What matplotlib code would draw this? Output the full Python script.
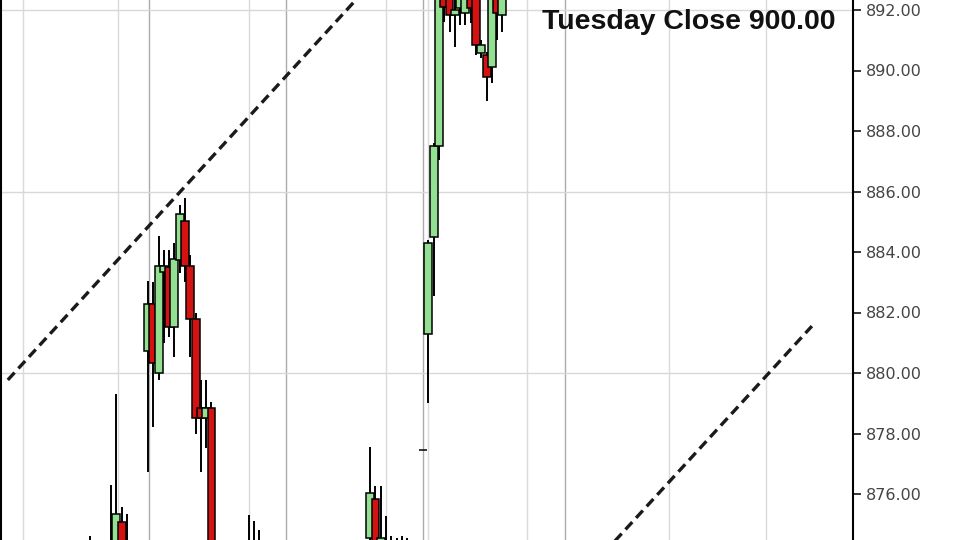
import matplotlib
matplotlib.use("Agg")
import matplotlib.pyplot as plt
import numpy as np

# 15 minute bars, x = bar number counted from the session open (dark grid line)
bar_idx = [-11, -7, -6, -5, -4,
           0, 1, 2, 3, 4, 5, 6, 7, 8, 9, 10, 11, 12,
           19, 20, 21,
           42, 43, 44, 45, 46, 47, 48, 49,
           52, 53, 54, 55,
           56, 57, 58, 59, 60, 61, 62, 63, 64, 65, 66, 67]
opens = [873.6, 873.8, 874.1, 875.07, 874.2,
         880.73, 882.27, 880.0, 883.35, 883.51, 881.53, 883.74, 885.04, 883.54, 881.8, 878.84, 878.5, 878.84,
         873.9, 874.1, 873.8,
         874.55, 875.82, 874.1, 874.3, 874.0, 874.3, 873.9, 874.2,
         877.47, 881.29, 884.5, 887.5,
         892.9, 892.4, 891.83, 892.05, 891.9, 892.8, 892.5, 890.57, 890.5, 890.13, 892.6, 891.83]
highs = [874.6, 876.3, 879.3, 875.57, 875.33,
         883.05, 883.0, 884.53, 884.07, 884.07, 884.3, 885.55, 885.8, 883.9, 882.0, 879.77, 879.77, 879.05,
         875.3, 875.1, 874.8,
         877.57, 876.27, 876.27, 875.27, 874.6, 874.55, 874.6, 874.55,
         877.47, 884.4, 887.6, 893.0,
         893.2, 892.8, 892.5, 893.0, 893.0, 893.0, 892.9, 891.0, 890.6, 892.8, 893.0, 892.9]
lows = [873.0, 873.2, 873.9, 873.5, 873.4,
        876.74, 878.2, 879.77, 881.0, 881.2, 880.54, 883.3, 883.0, 880.54, 878.0, 876.74, 877.52, 872.5,
        873.0, 873.5, 873.2,
        873.9, 873.8, 873.7, 873.6, 873.5, 873.6, 873.4, 873.5,
        877.47, 879.0, 882.55, 887.04,
        891.6, 891.28, 890.79, 891.5, 891.5, 891.56, 890.5, 890.4, 889.0, 889.58, 891.0, 891.28]
closes = [874.0, 874.2, 875.33, 873.9, 873.8,
          882.27, 880.32, 883.54, 883.54, 881.53, 883.76, 885.26, 883.54, 881.8, 878.5, 878.5, 878.84, 873.2,
          874.1, 873.8, 874.2,
          876.04, 874.2, 874.55, 874.0, 874.3, 873.9, 874.2, 873.8,
          877.47, 884.3, 887.5, 892.6,
          892.1, 891.83, 892.0, 892.6, 892.6, 892.05, 890.84, 890.84, 889.8, 892.4, 891.9, 892.5]

# trend channel anchors (bar, price)
upper_x = [-26.5, 42.0]
upper_y = [879.77, 892.85]
lower_x = [85.4, 125.5]
lower_y = [873.9, 881.55]

session_lines = [0.2, 26.1, 52.0, 78.9]
hour_lines = [-23.6, -5.7, 19.1, 45.0, 52.9, 71.6, 98.5, 116.8]
price_ticks = np.arange(876, 893, 2)

fig = plt.figure(figsize=(9.6, 5.4), dpi=100)
ax = fig.add_axes([0, 0, 853 / 960, 1])

o = np.array(opens)
c = np.array(closes)
body_col = np.where(c >= o, "#93e093", "#d41212")

for x in hour_lines:
    ax.axvline(x, color="#dadada", lw=1.0, zorder=0)
for x in session_lines:
    ax.axvline(x, color="#ababab", lw=1.0, zorder=0)
for y in [880, 886, 892]:
    ax.axhline(y, color="#d8d8d8", lw=1.0, zorder=0)

ax.vlines(bar_idx, lows, highs, color="black", lw=1.4, zorder=3)
ax.bar(bar_idx, np.abs(c - o), bottom=np.minimum(o, c), width=1.5,
       color=body_col, edgecolor="black", linewidth=1.1, zorder=4)

ax.plot(upper_x, upper_y, color="#1a1a1a", lw=2.4, ls=(0, (3, 1.7)), zorder=5)
ax.plot(lower_x, lower_y, color="#1a1a1a", lw=2.4, ls=(0, (3, 1.7)), zorder=5)

ax.text(836 / 853, 1 - 29 / 540, "Tuesday Close 900.00", transform=ax.transAxes,
        ha="right", va="baseline", fontsize=20.5, fontweight="bold",
        family="Liberation Sans", color="#111111", zorder=6)

ax.set_xticks([])
ax.yaxis.tick_right()
ax.set_yticks(price_ticks)
ax.set_yticklabels([f"{v:.2f}" for v in price_ticks])
ax.set_xlim((0 - 148) / 5.29, (853 - 148) / 5.29)
ax.set_ylim(892 - 530 / 30.25, 892 + 10 / 30.25)
ax.tick_params(axis="y", direction="out", length=6, width=1.1, pad=3,
               labelsize=11.5, labelcolor="#444444")
ax.spines["top"].set_visible(False)
ax.spines["bottom"].set_visible(False)
ax.spines["right"].set_linewidth(1.5)
ax.spines["left"].set_linewidth(2.2)

fig.savefig("out.png", dpi=100)
